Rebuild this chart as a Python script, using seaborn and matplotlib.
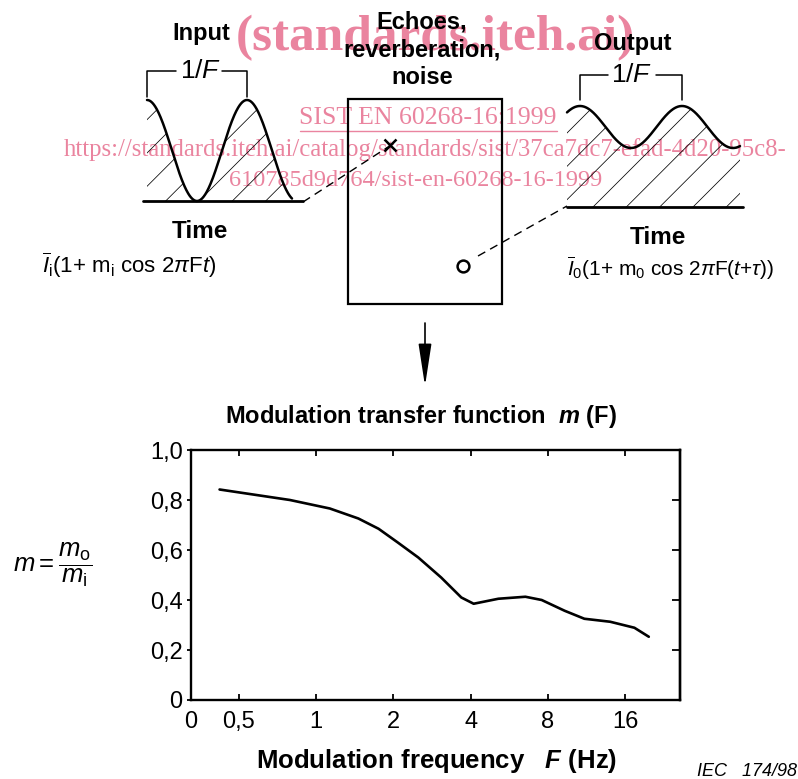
import matplotlib
matplotlib.use("Agg")
import matplotlib.pyplot as plt
import numpy as np
import pandas as pd
import seaborn as sns
from matplotlib.patches import Rectangle
from matplotlib.ticker import NullLocator

# modulation transfer function
freq_hz = [0.42, 0.79, 1.13, 1.46, 1.75, 2.08, 2.5, 3.07, 3.68, 4.11, 5.13, 6.54, 7.57, 9.3, 11.1, 14.0, 17.4, 19.8]
mtf = [0.842, 0.80, 0.766, 0.726, 0.685, 0.63, 0.57, 0.49, 0.41, 0.385, 0.405, 0.413, 0.40, 0.357, 0.325, 0.313, 0.289, 0.253]

x_ticks = [0.325, 0.5, 1, 2, 4, 8, 16]
x_ticklabels = ["0", "0,5", "1", "2", "4", "8", "16"]
y_ticks = [0, 0.2, 0.4, 0.6, 0.8, 1.0]
y_ticklabels = ["0", "0,2", "0,4", "0,6", "0,8", "1,0"]

sns.set_style("ticks")
plt.rcParams["font.family"] = ["Liberation Sans", "DejaVu Sans"]
plt.rcParams["mathtext.fontset"] = "custom"
plt.rcParams["mathtext.rm"] = "Liberation Sans"
plt.rcParams["mathtext.it"] = "Liberation Sans:italic"
plt.rcParams["mathtext.bf"] = "Liberation Sans:bold"
plt.rcParams["mathtext.sf"] = "Liberation Sans:bold:italic"
plt.rcParams["hatch.linewidth"] = 0.55
for k in ["text.color", "axes.labelcolor", "xtick.color", "ytick.color", "axes.edgecolor"]:
    plt.rcParams[k] = "black"

W, H = 798, 779
fig = plt.figure(figsize=(W / 100, H / 100), dpi=100)

# overlay in pixel coordinates for the schematic
ax0 = fig.add_axes([0, 0, 1, 1])
ax0.set_xlim(0, W)
ax0.set_ylim(H, 0)
ax0.axis("off")

pink = "#ea849f"
serif = ["Liberation Serif", "DejaVu Serif"]

# watermark
ax0.text(435, 38, "(standards.iteh.ai)", color=pink, fontsize=37, fontweight="bold",
         family=serif, ha="center", va="center", zorder=1)
ax0.text(428, 118, "SIST EN 60268-16:1999", color=pink, fontsize=18.5, family=serif,
         ha="center", va="center", zorder=1)
ax0.plot([300, 557], [131, 131], color=pink, lw=1, zorder=1)
ax0.text(425, 150, "https://standards.iteh.ai/catalog/standards/sist/37ca7dc7-efad-4d20-95c8-",
         color=pink, fontsize=17.8, family=serif, ha="center", va="center", zorder=1)
ax0.text(416, 180, "610785d9d764/sist-en-60268-16-1999", color=pink, fontsize=17.5,
         family=serif, ha="center", va="center", zorder=1)

# input signal
xi = np.linspace(147, 292, 300)
yi = 150.5 - 50.5 * np.cos(2 * np.pi * (xi - 147) / 100)
ax0.fill_between(xi, yi, 201, facecolor="none", edgecolor="black", hatch="/", linewidth=0, zorder=2)
ax0.plot(xi, yi, color="black", lw=1.8, zorder=3)
ax0.plot([143, 303], [201, 201], color="black", lw=2, zorder=3)
ax0.plot([147, 147, 176], [97, 71, 71], color="black", lw=1.1, zorder=3)
ax0.plot([222, 247, 247], [71, 71, 97], color="black", lw=1.1, zorder=3)
ax0.text(201, 71, r"1/$\mathit{F}$", fontsize=19, ha="center", va="center", zorder=3)
ax0.text(201, 33, "Input", fontsize=17, fontweight="bold", ha="center", va="center", zorder=3)
ax0.text(200, 231, "Time", fontsize=17.5, fontweight="bold", ha="center", va="center", zorder=3)
ax0.text(42, 265, r"$\overline{I}_\mathrm{i}$(1+ m$_\mathrm{i}$ cos 2$\pi$F$\mathit{t}$)",
         fontsize=16, ha="left", va="center", zorder=3)

# room box
ax0.add_patch(Rectangle((348, 99), 154, 205, fill=False, ec="black", lw=1.6, zorder=3))
for line in [["Echoes,", 22], ["reverberation,", 50], ["noise", 77]]:
    ax0.text(422, line[1], line[0], fontsize=17, fontweight="bold", ha="center", va="center", zorder=3)
ax0.plot([303, 388], [202, 147], color="black", lw=1, ls=(0, (6, 4)), zorder=3)
ax0.plot(390, 145, marker="x", ms=8, mew=1.8, color="black", zorder=3)
ax0.plot(463, 266, marker="o", ms=8.5, mew=1.8, mfc="white", mec="black", zorder=3)
ax0.plot([478, 567], [256, 206], color="black", lw=1, ls=(0, (6, 4)), zorder=3)
ax0.annotate("", xy=(425, 386), xytext=(425, 323),
             arrowprops=dict(arrowstyle="-|>,head_length=1.3,head_width=0.2", color="black",
                             lw=1.2, mutation_scale=20, shrinkA=0, shrinkB=0), zorder=3)

# output signal
xo = np.linspace(567, 740, 300)
yo = 127 - 21 * np.cos(2 * np.pi * (xo - 580) / 102)
ax0.fill_between(xo, yo, 207, facecolor="none", edgecolor="black", hatch="/", linewidth=0, zorder=2)
ax0.plot(xo, yo, color="black", lw=1.8, zorder=3)
ax0.plot([567, 743], [207, 207], color="black", lw=2, zorder=3)
ax0.plot([580, 580, 608], [100, 75, 75], color="black", lw=1.1, zorder=3)
ax0.plot([656, 682, 682], [75, 75, 100], color="black", lw=1.1, zorder=3)
ax0.text(632, 75, r"1/$\mathit{F}$", fontsize=19, ha="center", va="center", zorder=3)
ax0.text(633, 43, "Output", fontsize=17, fontweight="bold", ha="center", va="center", zorder=3)
ax0.text(658, 237, "Time", fontsize=17.5, fontweight="bold", ha="center", va="center", zorder=3)
ax0.text(567, 268, r"$\overline{I}_0$(1+ m$_0$ cos 2$\pi$F($\mathit{t}$+$\tau$))",
         fontsize=15, ha="left", va="center", zorder=3)

# labels of the chart
ax0.text(421, 416, r"Modulation transfer function  $\mathsf{m}$ (F)", fontsize=17,
         fontweight="bold", ha="center", va="center")
ax0.text(437, 761, r"Modulation frequency   $\mathsf{F}$ (Hz)", fontsize=18.5,
         fontweight="bold", ha="center", va="center")
ax0.text(13, 565, r"$\mathit{m} = \dfrac{\mathit{m}_\mathrm{o}}{\mathit{m}_\mathrm{i}}$",
         fontsize=18.5, ha="left", va="center")
ax0.text(697, 771, "IEC   174/98", fontsize=13, fontstyle="italic", ha="left", va="center")

# main chart
ax = fig.add_axes([191 / W, 1 - 700 / H, 489 / W, 250 / H])
ax.patch.set_alpha(0)
df = pd.DataFrame({"F": freq_hz, "m": mtf})
sns.lineplot(data=df, x="F", y="m", ax=ax, color="black", lw=1.9)
ax.set_xscale("log", base=2)
ax.set_xlim(0.325, 26.2)
ax.set_ylim(0, 1.0)
ax.set_xticks(x_ticks)
ax.set_xticklabels(x_ticklabels)
ax.xaxis.set_minor_locator(NullLocator())
ax.set_yticks(y_ticks)
ax.set_yticklabels(y_ticklabels)
ax.set_xlabel("")
ax.set_ylabel("")
for s in ax.spines.values():
    s.set_visible(True)
    s.set_linewidth(1.7)
ax.tick_params(axis="x", direction="in", top=True, length=4.5, width=1.3, pad=8, labelsize=17)
ax.tick_params(axis="y", direction="out", length=3, width=1.3, pad=3, labelsize=17)
sec = ax.secondary_yaxis("right")
sec.set_yticks(y_ticks)
sec.tick_params(direction="in", length=6, width=1.3, labelright=False)
sec.spines["right"].set_linewidth(1.7)

fig.savefig("out.png", dpi=100)
